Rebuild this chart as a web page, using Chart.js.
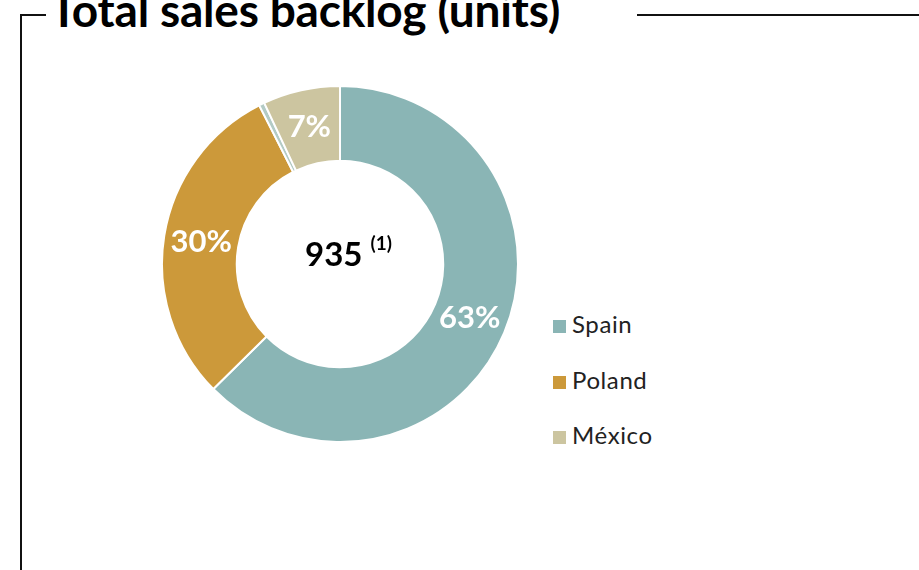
<!DOCTYPE html>
<html>
<head>
<meta charset="utf-8">
<script src="https://cdn.jsdelivr.net/npm/chart.js@4"></script>
<style>
  body { margin: 0; width: 919px; height: 570px; background: #fff; overflow: hidden; font-family: Lato, "Open Sans", sans-serif; position: relative; }
  .frame-left { position: absolute; left: 20px; top: 14px; width: 2px; height: 560px; background: #111; }
  .frame-top1 { position: absolute; left: 20px; top: 14px; width: 26px; height: 2px; background: #111; }
  .frame-top2 { position: absolute; left: 637px; top: 14px; width: 282px; height: 2px; background: #111; }
  .title { position: absolute; left: 50px; top: -13px; font-size: 46px; line-height: 46px; font-weight: bold; color: #000; white-space: nowrap; letter-spacing: -0.2px; }
  .chart-box { position: absolute; left: 161px; top: 85px; width: 358px; height: 358px; }
  .center { position: absolute; left: 305px; top: 233px; font-size: 33px; font-weight: bold; color: #000; white-space: nowrap; }
  .center sup { font-size: 19px; position: relative; top: -4px; margin-left: 8px; }
  .legend { position: absolute; left: 553px; top: 309px; }
  .legend .row { height: 55.5px; display: flex; align-items: flex-start; font-size: 24px; color: #222; letter-spacing: 0.6px; }
  .legend .sw { width: 13px; height: 13px; margin-top: 11px; margin-right: 6px; }
</style>
</head>
<body>
<div class="frame-left"></div>
<div class="frame-top1"></div>
<div class="frame-top2"></div>
<div class="title">Total sales backlog (units)</div>
<div class="chart-box"><canvas id="chart"></canvas></div>
<div class="center">935<sup>(1)</sup></div>
<div class="legend" id="legend"></div>
<script>
// share of backlog by country, percent (small unlabeled sliver between Poland and México)
const countries = ['Spain', 'Poland', 'Other', 'México'];
const shares = [62.6, 29.9, 0.5, 7.0];
const shareLabels = ['63%', '30%', '', '7%'];
const colors = ['#8AB5B5', '#CC993A', '#B3CBC5', '#CCC5A0'];
const legendCountries = ['Spain', 'Poland', 'México'];

// write the percentage inside each slice
const sliceLabels = {
    id: 'sliceLabels',
    afterDatasetsDraw(chart) {
        const ctx = chart.ctx;
        const meta = chart.getDatasetMeta(0);
        ctx.save();
        ctx.font = 'bold 31px Lato, "Open Sans", sans-serif';
        ctx.fillStyle = '#fff';
        ctx.textAlign = 'center';
        ctx.textBaseline = 'middle';
        meta.data.forEach((arc, i) => {
            if (!shareLabels[i]) return;
            const p = arc.getCenterPoint();
            ctx.fillText(shareLabels[i], p.x, p.y);
        });
        ctx.restore();
    }
};

new Chart(document.getElementById('chart'), {
    type: 'doughnut',
    data: {
        labels: countries,
        datasets: [{
            data: shares,
            backgroundColor: colors,
            borderColor: '#fff',
            borderWidth: 2
        }]
    },
    options: {
        responsive: true,
        maintainAspectRatio: false,
        animation: false,
        cutout: '58%',
        layout: { padding: 0 },
        plugins: {
            legend: { display: false },
            tooltip: { enabled: false }
        }
    },
    plugins: [sliceLabels]
});

const legend = document.getElementById('legend');
legendCountries.forEach(name => {
    const i = countries.indexOf(name);
    const row = document.createElement('div');
    row.className = 'row';
    row.innerHTML = '<div class="sw" style="background:' + colors[i] + '"></div><span>' + name + '</span>';
    legend.appendChild(row);
});
</script>
</body>
</html>
